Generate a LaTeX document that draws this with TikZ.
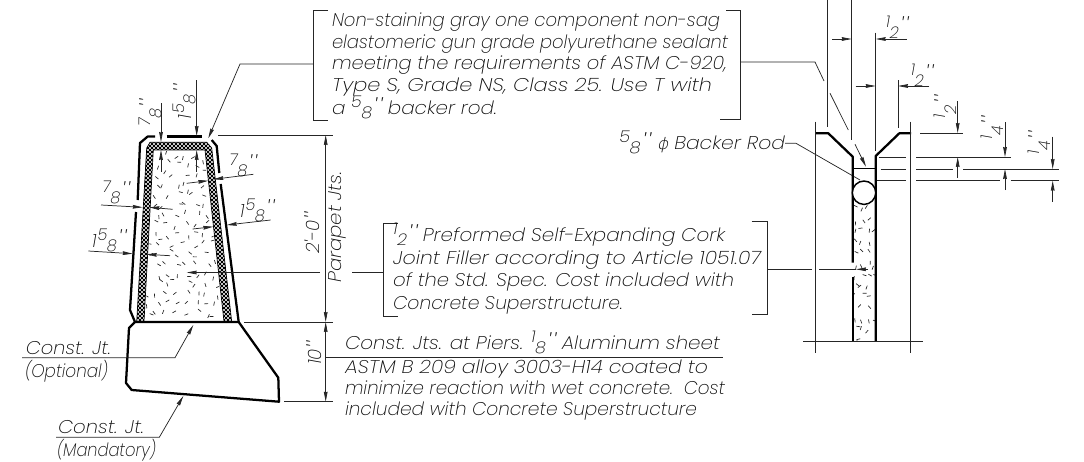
\documentclass[tikz,border=0pt]{standalone}
\usepackage{fontspec}
\usepackage{graphicx}
\usetikzlibrary{arrows.meta}
\newfontfamily\dwg{Poppins ExtraLight Italic}
\newfontfamily\dvphi{DejaVu Sans ExtraLight}[FakeSlant=0.2]
\definecolor{ink}{gray}{0.05}
\newsavebox\fitbx
\newcommand\prm{\scalebox{1.15}{\textquotesingle\kern.1em\textquotesingle}}
\newcommand\dpr{\raisebox{-.12em}{\prm}}
\newcommand\frc[2]{\raisebox{.38em}{\scalebox{.88}{#1}}\kern-.02em\raisebox{-.22em}{\scalebox{.88}{#2}}\kern.08em\raisebox{.02em}{\prm}}
\newcommand\fitw[2]{\sbox\fitbx{#2}\pgfmathsetmacro\rr{((#1)*0.75)/(\the\wd\fitbx)}\scalebox{\rr}[1]{\usebox\fitbx}}
\newcommand\tl[5]{\node[txt,anchor=base west] (#1) at ({#2},{#3+6.5}) {\fitw{#4-#2}{#5}};}
\tikzset{
  x=0.75pt,y=-0.75pt,
  txt/.style={inner sep=0pt,outer sep=0pt,text=ink,font=\dwg\fontsize{13.8}{16}\selectfont},
  thinl/.style={line width=0.55pt,draw=black!85},
  thick wall/.style={line width=1.7pt,draw=black,line join=round},
  dim/.style={thinl,-{Stealth[length=7.5pt,width=2.8pt,inset=0.5pt]}},
  speck/.style={line width=0.5pt,draw=black!85},
  hatchl/.style={line width=0.6pt,draw=black},
}
\begin{document}
\begin{tikzpicture}
\useasboundingbox (0,0) rectangle (1084,461);
\pgfmathsetseed{11}
% ---- left section: crosshatched band
\begin{scope}
\clip (146.7,148)--(150,142.3)--(206.7,142.3)--(211.7,148)--(231.7,321.7)--(136.7,321.7)--cycle;
\foreach \k in {-200,-196,...,120}{
  \draw[hatchl] ({120+\k},120)--({120+\k+220},340);
  \draw[hatchl] ({120+\k},340)--({120+\k+220},120);
}
\end{scope}
\fill[white] (153.3,150)--(205,150)--(224,321.7)--(144,321.7)--cycle;
\draw[line width=0.5pt] (146.7,148)--(150,142.3)--(206.7,142.3)--(211.7,148)--(231.7,321.7)--(136.7,321.7)--cycle;
\draw[line width=0.5pt] (153.3,150)--(205,150)--(224,321.7)--(144,321.7)--cycle;
\begin{scope}
\clip (154.5,151)--(204,151)--(223,320)--(145,320)--cycle;
\foreach \xx in {146,156,...,224}{
  \foreach \yy in {153,163,...,320}{
    \pgfmathsetmacro\dx{rand*4}\pgfmathsetmacro\dy{rand*4}\pgfmathsetmacro\aa{rnd*180}
    \draw[speck] ({\xx+\dx},{\yy+\dy})--++(\aa:4);
  }
}
\end{scope}
% ---- left section: outline
\draw[thick wall] (155,136.5)--(147.7,136.5)--(140,143)--(137.7,200);
\draw[thick wall] (166.7,136.5)--(201.7,136.5);
\draw[thick wall] (211.7,140)--(216.7,146)--(219.3,173);
\draw[thick wall] (220.7,184)--(238.7,322);
\draw[thick wall] (136,212)--(130,310)--(135,322);
\draw[thick wall] (135,322)--(238.7,322)--(278.3,377.7)--(279,401.7)--(131.7,390)--(126,383)--(129,328)--(135,322);
% ---- left section: dimensions
\draw[dim] (161,103)--(161,142);
\draw[dim] (161,171.7)--(161,150);
\draw[dim] (196.7,80)--(196.7,136);
\draw[dim] (196.7,171.7)--(196.7,150);
\draw[dim] (253.3,174.3)--(213.3,179.3);
\draw[dim] (186.7,183.3)--(208.3,180.7);
\draw[dim] (101,205)--(142.7,207.3);
\draw[dim] (172.7,209.3)--(149.3,207.3);
\draw[dim] (270.7,220)--(226.7,225);
\draw[dim] (192.7,229)--(213.3,226.7);
\draw[dim] (88.3,251)--(132.7,253.7);
\draw[dim] (170,255.7)--(146.7,254.3);
\draw[thinl] (218.3,135)--(333,135);
\draw[thinl] (244,322)--(333,322);
\draw[thinl] (284,401.7)--(333,401.7);
\draw[dim] (325.7,228)--(325.7,135);
\draw[dim] (325.7,228)--(325.7,322);
\draw[dim] (325.7,362)--(325.7,322);
\draw[dim] (325.7,362)--(325.7,401.7);
\draw[thinl] (326,357.3)--(723,357.3);
\node[txt] (t78a) at (150,113) [rotate=90] {\frc{7}{8}};
\node[txt] (t158a) at (184,102) [rotate=90] {1\kern.05em\frc{5}{8}};
\node[txt] (t78b) at (243,165) {\frc{7}{8}};
\node[txt] (t78c) at (116,192) {\frc{7}{8}};
\node[txt] (t158b) at (257,210) {1\kern.05em\frc{5}{8}};
\node[txt] (t158c) at (109,240) {1\kern.05em\frc{5}{8}};
\node[txt,rotate=90] (t20) at (313,233) {2\textquotesingle-0\kern.05em\dpr};
\node[txt,rotate=90] (tpj) at (337,227) {\fitw{111}{Parapet Jts.}};
\node[txt,rotate=90] (t10) at (315,353) {10\dpr};
% ---- left leaders
\draw[dim] (22,357.7)--(175,357.7)--(193.3,325);
\draw[dim] (56,437.3)--(159.3,437.3)--(183.3,396);
\tl{co1}{26}{348}{111}{Const. Jt.}
\tl{co2}{25}{371}{108}{(Optional)}
\tl{cm1}{58}{427}{144}{Const. Jt.}
\tl{cm2}{57}{450}{156}{(Mandatory)}
% ---- sealant note
\draw[thinl] (328,10)--(313.3,10)--(313.3,120.7)--(328,120.7);
\draw[thinl] (726,10)--(740.7,10)--(740.7,119)--(720,119);
\draw[dim] (313.3,64)--(240,64)--(208.3,138.3);
\draw[thinl] (740.7,62)--(815,62)--(824,81);
\draw[thinl] (830,93.3)--(848.3,130);
\draw[dim] (855,144.3)--(866,166.7);
\tl{n1}{332}{20}{720}{Non-staining gray one component non-sag}
\tl{n2}{332}{42}{728}{elastomeric gun grade polyurethane sealant}
\tl{n3}{332}{63}{727}{meeting the requirements of ASTM C-920,}
\tl{n4}{332}{85}{712}{Type S, Grade NS, Class 25. Use T with}
\tl{n5}{332}{108}{497}{a \frc{5}{8} backer rod.}
% ---- filler note
\draw[thinl] (398,223.3)--(383.3,223.3)--(383.3,316.7)--(398,316.7);
\draw[thinl] (751.7,221.7)--(767.3,221.7)--(767.3,314.3)--(751.7,314.3);
\draw[thinl] (767.3,269.3)--(811.7,269.3);
\draw[thinl] (819.3,269.3)--(856,269.3);
\draw[dim] (868,269.3)--(856,269.3);
\draw[thinl] (383.3,272)--(351.7,272);
\draw[dim] (320,272.5)--(186.7,272.5);
\tl{f1}{393}{235}{725}{\frc{1}{2} Preformed Self-Expanding Cork}
\tl{f2}{393}{258}{761}{Joint Filler according to Article 1051.07}
\tl{f3}{393}{280}{734}{of the Std. Spec. Cost included with}
\tl{f4}{393}{303}{623}{Concrete Superstructure.}
% ---- const. jts. note
\tl{j1}{345}{343}{720}{Const. Jts. at Piers. \frc{1}{8} Aluminum sheet}
\tl{j2}{345}{367}{708}{ASTM B 209 alloy 3003-H14 coated to}
\tl{j3}{345}{388}{725}{minimize reaction with wet concrete.\ \ Cost}
\tl{j4}{345}{409}{697}{included with Concrete Superstructure}
% ---- backer rod label
\tl{br}{619.3}{143}{785}{\frc{5}{8} {\dvphi\fontsize{12}{14}\selectfont ϕ} Backer Rod}
\draw[thinl] (785,143.3)--(796,143.3)--(860,180);
% ---- right section
\begin{scope}
\clip (853.5,205)--(875,205)--(875,340.5)--(853.5,340.5)--cycle;
\foreach \xx in {855,862,869,875}{
  \foreach \yy in {208,219,...,340}{
    \pgfmathsetmacro\dx{rand*2}\pgfmathsetmacro\dy{rand*3}\pgfmathsetmacro\aa{rnd*180}
    \draw[speck] ({\xx+\dx},{\yy+\dy})--++(\aa:4);
  }
}
\end{scope}
\draw[thick wall] (815,133.3)--(828.3,133.3)--(852.7,156.7)--(852.7,262.7);
\draw[thick wall] (852.7,277.3)--(852.7,341);
\draw[thick wall] (911,133.3)--(899.3,133.3)--(875.7,156)--(875.7,341);
\draw[line width=1.1pt] (852.7,168.3)--(875.7,168.3);
\draw[line width=1.1pt,fill=white] (864,192.7) circle[radius=11.7];
\draw[thinl] (827.7,0)--(827.7,127.3);
\draw[thinl] (851.7,0)--(851.7,140);
\draw[thinl] (875.7,32.7)--(875.7,150.7);
\draw[thinl] (898,80)--(898,128);
\draw[thinl] (815,121.7)--(815,353);
\draw[thinl] (910.7,121.7)--(910.7,353);
\draw[thinl] (803,341)--(923,341);
\draw[dim] (832.3,39)--(851.7,39);
\draw[dim] (906.7,39)--(875.7,39);
\draw[dim] (855.7,86)--(875.7,86);
\draw[dim] (929.3,86)--(898,86);
\draw[thinl] (920,133)--(962.7,133);
\draw[thinl] (879.3,157)--(905.7,157);
\draw[thinl] (916,157)--(1010.7,157);
\draw[thinl] (880.7,169)--(905.7,169);
\draw[thinl] (916,169)--(953.3,169);
\draw[thinl] (963.3,169)--(1059,169);
\draw[thinl] (877.3,180.7)--(905.7,180.7);
\draw[thinl] (916,180.7)--(1000,180.7);
\draw[thinl] (1010.7,180.7)--(1059,180.7);
\draw[dim] (957.7,101)--(957.7,133);
\draw[dim] (957.7,178)--(957.7,157);
\draw[dim] (1005,122.3)--(1005,157);
\draw[dim] (1005,190)--(1005,169);
\draw[dim] (1052.7,136.7)--(1052.7,169);
\draw[dim] (1052.7,201.7)--(1052.7,180.7);
\node[txt] (h1) at (897,27) {\frc{1}{2}};
\node[txt] (h2) at (922,75) {\frc{1}{2}};
\node[txt,rotate=90] (v1) at (945,107) {\frc{1}{2}};
\node[txt,rotate=90] (v2) at (992,128) {\frc{1}{4}};
\node[txt,rotate=90] (v3) at (1039,143) {\frc{1}{4}};
\end{tikzpicture}
\end{document}
